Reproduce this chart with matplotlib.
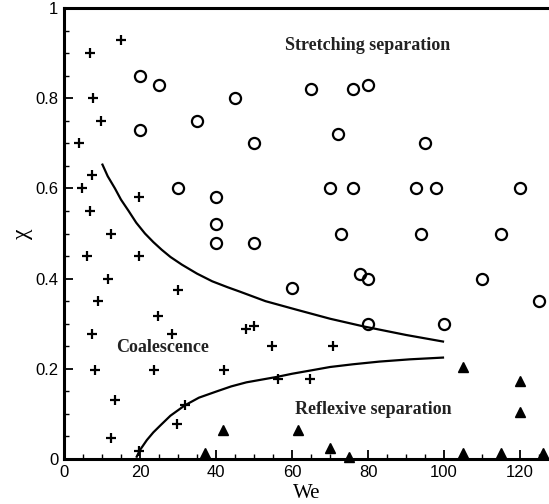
import matplotlib
matplotlib.use("Agg")
import matplotlib.pyplot as plt
from matplotlib.ticker import MultipleLocator

# Collision outcomes: Weber number vs impact parameter
coal_we = [15, 6.8, 7.6, 9.7, 3.9, 7.4, 4.8, 19.7, 6.8, 12.4, 6.1, 19.7, 11.6, 29.9,
           8.9, 24.7, 7.4, 28.3, 47.8, 50.0, 54.8, 70.7, 8.2, 23.8, 42.0, 56.2, 64.8,
           13.4, 31.8, 29.8, 12.3, 19.7]
coal_chi = [0.93, 0.90, 0.80, 0.75, 0.70, 0.63, 0.60, 0.58, 0.55, 0.50, 0.45, 0.45, 0.40, 0.375,
            0.35, 0.318, 0.278, 0.278, 0.289, 0.296, 0.25, 0.25, 0.198, 0.198, 0.198, 0.178, 0.178,
            0.13, 0.119, 0.078, 0.047, 0.018]

stretch_we = [20, 25, 45, 20, 35, 30, 40, 40, 40, 50, 50, 65, 76, 80, 72, 95, 70, 76, 92.5,
              98, 120, 73, 94, 115, 60, 78, 80, 110, 125, 80, 100]
stretch_chi = [0.85, 0.83, 0.80, 0.73, 0.75, 0.60, 0.58, 0.52, 0.48, 0.48, 0.70, 0.82, 0.82,
               0.83, 0.72, 0.70, 0.60, 0.60, 0.60, 0.60, 0.60, 0.50, 0.50, 0.50, 0.38, 0.41,
               0.40, 0.40, 0.35, 0.30, 0.30]

refl_we = [37.2, 41.9, 61.5, 70, 75, 105, 105, 115, 120, 120, 126]
refl_chi = [0.013, 0.064, 0.064, 0.024, 0.005, 0.205, 0.014, 0.014, 0.174, 0.104, 0.014]

# Regime boundaries
upper_we = [10, 11.5, 13.4, 15, 17, 19, 21.3, 23.5, 25.7, 28, 31, 35, 39, 43, 46.3, 53,
            61.2, 70, 78.8, 90, 100]
upper_chi = [0.655, 0.627, 0.600, 0.575, 0.550, 0.524, 0.500, 0.481, 0.464, 0.448, 0.431,
             0.411, 0.394, 0.381, 0.371, 0.350, 0.331, 0.311, 0.294, 0.275, 0.260]
lower_we = [19.0, 20.0, 21.8, 23.5, 25.3, 28, 31.8, 35.5, 40.2, 44, 48, 52, 56, 60, 64.7,
            70, 76, 83, 91, 100]
lower_chi = [0.003, 0.020, 0.042, 0.059, 0.074, 0.096, 0.119, 0.136, 0.150, 0.161, 0.170,
             0.176, 0.182, 0.189, 0.196, 0.204, 0.210, 0.216, 0.221, 0.225]

fig = plt.figure(figsize=(5.49, 5.04), dpi=100)
ax = fig.add_axes([64 / 549, 45 / 504, 485 / 549, 451 / 504])

ax.plot(upper_we, upper_chi, color="black", lw=1.6, solid_capstyle="butt")
ax.plot(lower_we, lower_chi, color="black", lw=1.6, solid_capstyle="butt")

ax.plot(coal_we, coal_chi, linestyle="none", marker="+", color="black",
        markersize=6.5, markeredgewidth=1.6, clip_on=False)
ax.plot(stretch_we, stretch_chi, linestyle="none", marker="o", markerfacecolor="none",
        markeredgecolor="black", markersize=8, markeredgewidth=1.6, clip_on=False)
ax.plot(refl_we, refl_chi, linestyle="none", marker="^", color="black",
        markersize=7.5, clip_on=False, zorder=5)

ax.set_xlim(0, 127.6)
ax.set_ylim(0, 1)
ax.xaxis.set_major_locator(MultipleLocator(20))
ax.xaxis.set_minor_locator(MultipleLocator(5))
ax.yaxis.set_major_locator(MultipleLocator(0.2))
ax.yaxis.set_minor_locator(MultipleLocator(0.05))
ax.set_yticks([0, 0.2, 0.4, 0.6, 0.8, 1.0])
ax.set_yticklabels(["0", "0.2", "0.4", "0.6", "0.8", "1"])

for side in ("left", "bottom", "top"):
    ax.spines[side].set_linewidth(2.2)
ax.spines["right"].set_visible(False)

ax.tick_params(which="both", direction="in", top=False, right=False, width=1.3,
               labelsize=12, pad=4)
ax.tick_params(which="major", length=6.5)
ax.tick_params(which="minor", length=3.5, width=1.0)
for lab in ax.get_xticklabels() + ax.get_yticklabels():
    lab.set_fontfamily("Liberation Sans")

ax.set_xlabel("We", fontfamily="Liberation Serif", fontsize=15, labelpad=3)
ax.set_ylabel("χ", fontfamily="Liberation Serif", fontsize=17, rotation=90, labelpad=2)

txt = dict(fontfamily="Liberation Serif", fontweight="bold", fontsize=13,
           ha="center", va="center", color="#222222")
ax.text(80, 0.917, "Stretching separation", **txt)
ax.text(26, 0.248, "Coalescence", **txt)
ax.text(81.5, 0.11, "Reflexive separation", **txt)

fig.savefig("out.png", dpi=100)
